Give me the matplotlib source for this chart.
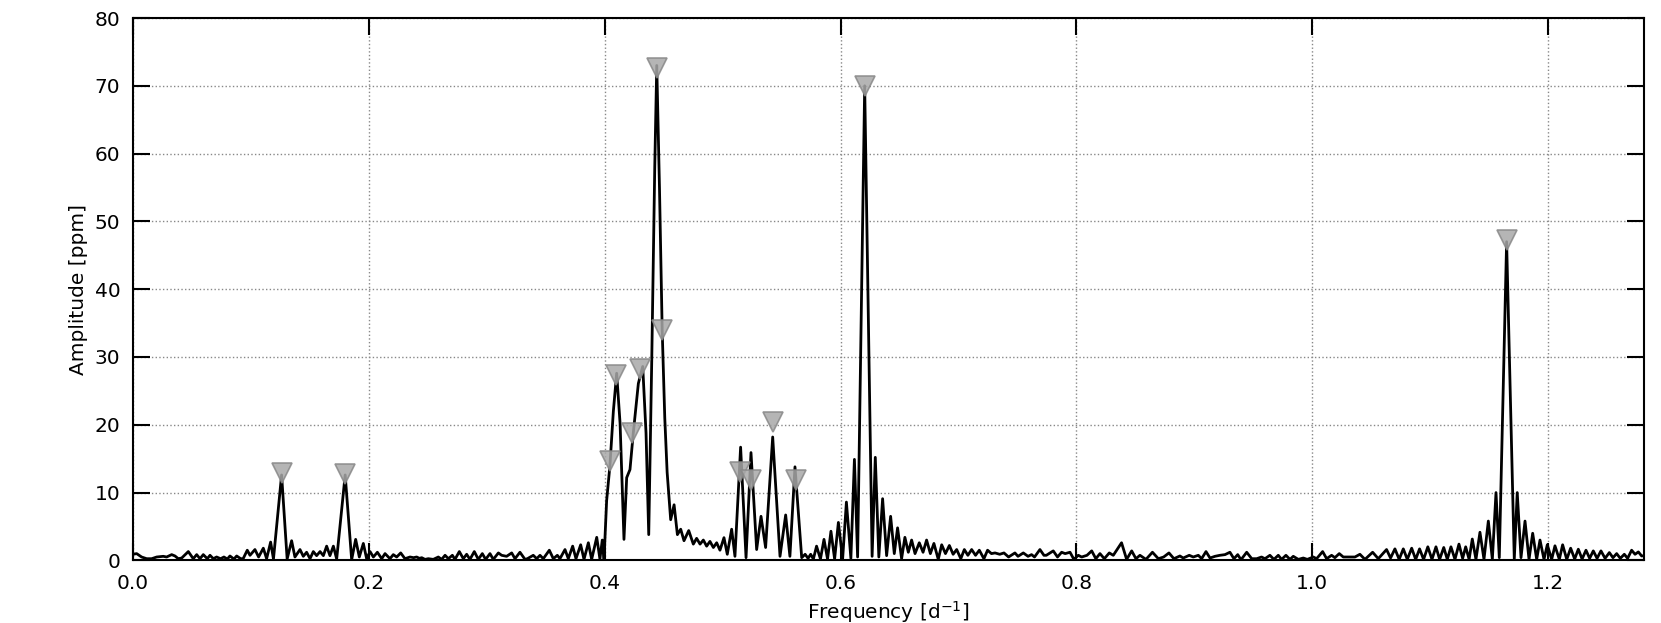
import matplotlib
matplotlib.use("Agg")
import matplotlib.pyplot as plt

# ---- data (vertices of the amplitude spectrum) ----
freq = [
    0.000, 0.0032, 0.0074, 0.0117, 0.0159, 0.0202, 0.0258, 0.0286, 0.0329, 0.0357,
    0.0385, 0.0414, 0.0470, 0.0512, 0.0541, 0.0569, 0.0597, 0.0631, 0.0654, 0.0682,
    0.0710, 0.0744, 0.0772, 0.0801, 0.0823, 0.0857, 0.0880, 0.0914, 0.0935, 0.0970,
    0.0993, 0.1035, 0.1066, 0.1106, 0.1134, 0.1168, 0.1192, 0.1261, 0.1308, 0.1346,
    0.1374, 0.1417, 0.1445, 0.1473, 0.1502, 0.1530, 0.1558, 0.1587, 0.1615, 0.1643,
    0.1671, 0.1700, 0.1728, 0.1800, 0.1855, 0.1889, 0.1920, 0.1954, 0.1982, 0.2011,
    0.2039, 0.2073, 0.2110, 0.2138, 0.2180, 0.2208, 0.2237, 0.2271, 0.2307, 0.2350,
    0.2380, 0.2406, 0.2430, 0.2449, 0.2477, 0.2505, 0.2547, 0.2590, 0.2618, 0.2647,
    0.2675, 0.2709, 0.2731, 0.2768, 0.2802, 0.2830, 0.2858, 0.2895, 0.2929, 0.2963,
    0.2991, 0.3028, 0.3056, 0.3099, 0.3127, 0.3169, 0.3212, 0.3240, 0.3282, 0.3325,
    0.3345, 0.3395, 0.3424, 0.3452, 0.3480, 0.3531, 0.3565, 0.3599, 0.3621, 0.3664,
    0.3692, 0.3729, 0.3757, 0.3797, 0.3825, 0.3862, 0.3890, 0.3933, 0.3960, 0.3980,
    0.3995, 0.4017, 0.4045, 0.4074, 0.4102, 0.4131, 0.4164, 0.4187, 0.4215, 0.4243,
    0.4286, 0.4323, 0.4351, 0.4374, 0.4400, 0.4425, 0.4442, 0.4465, 0.4488, 0.4510,
    0.4530, 0.4560, 0.4589, 0.4617, 0.4645, 0.4673, 0.4713, 0.4752, 0.4780, 0.4809,
    0.4837, 0.4865, 0.4893, 0.4922, 0.4950, 0.4978, 0.5012, 0.5040, 0.5077, 0.5105,
    0.5153, 0.5199, 0.5241, 0.5289, 0.5326, 0.5365, 0.5425, 0.5487, 0.5535, 0.5571,
    0.5614, 0.5671, 0.5700, 0.5725, 0.5747, 0.5770, 0.5797, 0.5830, 0.5860, 0.5890,
    0.5919, 0.5950, 0.5982, 0.6018, 0.6050, 0.6088, 0.6118, 0.6145, 0.6205, 0.6268,
    0.6295, 0.6325, 0.6357, 0.6391, 0.6425, 0.6456, 0.6484, 0.6518, 0.6546, 0.6575,
    0.6603, 0.6632, 0.6668, 0.6700, 0.6730, 0.6762, 0.6792, 0.6829, 0.6858, 0.6890,
    0.6923, 0.6955, 0.6985, 0.7020, 0.7050, 0.7080, 0.7112, 0.7145, 0.7177, 0.7216,
    0.7247, 0.7280, 0.7310, 0.7350, 0.7386, 0.7425, 0.7479, 0.7505, 0.7550, 0.7590,
    0.7620, 0.7645, 0.7691, 0.7725, 0.7745, 0.7804, 0.7840, 0.7875, 0.7905, 0.7946,
    0.7979, 0.8016, 0.8045, 0.8090, 0.8130, 0.8165, 0.8200, 0.8237, 0.8279, 0.8313,
    0.8383, 0.8426, 0.8469, 0.8505, 0.8539, 0.8590, 0.8645, 0.8695, 0.8740, 0.8785,
    0.8827, 0.8878, 0.8906, 0.8957, 0.8991, 0.9034, 0.9062, 0.9099, 0.9133, 0.9175,
    0.9217, 0.9260, 0.9302, 0.9336, 0.9368, 0.9396, 0.9444, 0.9487, 0.9529, 0.9570,
    0.9599, 0.9641, 0.9675, 0.9712, 0.9740, 0.9777, 0.9811, 0.9839, 0.9882, 0.9924,
    0.9958, 1.0009, 1.0037, 1.0088, 1.0122, 1.0164, 1.0192, 1.0229, 1.0263, 1.0320,
    1.0362, 1.0404, 1.0447, 1.0512, 1.0560, 1.0630, 1.0664, 1.0701, 1.0737, 1.0772,
    1.0806, 1.0843, 1.0877, 1.0910, 1.0944, 1.0980, 1.1015, 1.1049, 1.1080, 1.1115,
    1.1145, 1.1176, 1.1210, 1.1244, 1.1275, 1.1301, 1.1330, 1.1357, 1.1388, 1.1422,
    1.1456, 1.1493, 1.1527, 1.1558, 1.1586, 1.1648, 1.1713, 1.1738, 1.1770, 1.1804,
    1.1838, 1.1869, 1.1903, 1.1931, 1.1965, 1.1993, 1.2030, 1.2058, 1.2095, 1.2123,
    1.2158, 1.2191, 1.2225, 1.2256, 1.2288, 1.2321, 1.2352, 1.2383, 1.2415, 1.2448,
    1.2483, 1.2519, 1.2550, 1.2581, 1.2612, 1.2646, 1.2674, 1.2708, 1.2737, 1.2765,
    1.2793, 1.2815,
]
amplitude = [
    0.9, 1.0, 0.5, 0.25, 0.25, 0.5, 0.6, 0.5, 0.85, 0.65,
    0.25, 0.35, 1.3, 0.25, 0.85, 0.25, 0.85, 0.25, 0.75, 0.25,
    0.5, 0.25, 0.5, 0.2, 0.65, 0.2, 0.65, 0.25, 0.25, 1.5,
    0.75, 1.6, 0.5, 1.8, 0.25, 2.7, 0.2, 12.6, 0.2, 2.9,
    0.5, 1.6, 0.6, 1.2, 0.25, 1.3, 0.7, 1.3, 0.7, 2.1,
    0.7, 2.1, 0.2, 12.6, 0.1, 3.1, 0.5, 2.5, 0.25, 1.3,
    0.5, 1.2, 0.25, 1.0, 0.25, 0.85, 0.5, 1.1, 0.25, 0.5,
    0.4, 0.5, 0.3, 0.4, 0.15, 0.25, 0.15, 0.5, 0.15, 0.75,
    0.25, 0.75, 0.15, 1.3, 0.25, 0.9, 0.15, 1.3, 0.15, 1.0,
    0.15, 1.0, 0.15, 1.1, 0.75, 0.6, 1.1, 0.25, 1.2, 0.15,
    0.25, 0.75, 0.25, 0.75, 0.25, 1.5, 0.25, 0.75, 0.25, 1.6,
    0.25, 2.1, 0.25, 2.3, 0.15, 2.6, 0.15, 3.4, 0.2, 3.0,
    0.2, 8.8, 14.0, 22.0, 27.6, 20.2, 3.1, 12.2, 13.4, 18.8,
    26.1, 28.6, 18.8, 3.8, 30.0, 58.0, 73.0, 55.0, 34.0, 21.0,
    13.0, 6.0, 8.2, 3.8, 4.6, 2.9, 4.4, 2.4, 3.25, 2.4,
    3.0, 2.1, 2.8, 1.9, 2.6, 1.5, 3.35, 0.9, 4.6, 0.6,
    16.7, 0.4, 15.9, 1.6, 6.5, 1.9, 18.2, 0.6, 6.7, 0.6,
    13.8, 0.4, 0.9, 0.3, 0.9, 0.2, 2.1, 0.2, 3.1, 0.2,
    4.3, 0.2, 5.6, 0.2, 8.6, 0.3, 14.9, 0.5, 70.0, 0.6,
    15.2, 0.5, 9.1, 0.7, 6.5, 1.0, 4.8, 0.25, 3.4, 1.2,
    3.0, 1.0, 2.6, 1.2, 3.0, 1.0, 2.5, 0.15, 2.3, 1.0,
    2.2, 0.9, 1.6, 0.25, 1.6, 0.75, 1.6, 0.75, 1.5, 0.25,
    1.5, 1.0, 1.1, 0.9, 1.1, 0.5, 1.1, 0.6, 1.1, 0.6,
    0.85, 0.5, 1.6, 0.75, 0.75, 1.4, 0.5, 1.2, 1.0, 1.2,
    0.15, 0.75, 0.5, 0.75, 1.4, 0.25, 1.0, 0.25, 1.1, 0.75,
    2.6, 0.15, 1.4, 0.25, 0.75, 0.15, 1.2, 0.25, 0.5, 1.1,
    0.25, 0.65, 0.35, 0.75, 0.5, 0.75, 0.25, 1.3, 0.35, 0.6,
    0.75, 0.85, 1.2, 0.25, 0.85, 0.1, 1.2, 0.25, 0.25, 0.5,
    0.25, 0.75, 0.15, 0.75, 0.15, 0.75, 0.15, 0.6, 0.15, 0.35,
    0.15, 0.5, 0.25, 1.3, 0.25, 0.75, 0.4, 1.0, 0.5, 0.5,
    0.5, 0.9, 0.15, 1.2, 0.25, 1.6, 0.35, 1.7, 0.15, 1.7,
    0.15, 1.8, 0.15, 1.7, 0.15, 2.0, 0.15, 2.0, 0.15, 1.9,
    0.15, 2.0, 0.15, 2.4, 0.3, 2.0, 0.15, 3.15, 0.15, 4.15,
    0.15, 5.8, 0.15, 10.0, 0.4, 47.0, 0.15, 10.0, 0.4, 5.8,
    0.15, 4.0, 0.15, 3.0, 0.15, 2.3, 0.15, 2.15, 0.15, 2.3,
    0.15, 1.8, 0.2, 1.65, 0.2, 1.5, 0.3, 1.4, 0.3, 1.4,
    0.3, 1.15, 0.4, 1.0, 0.3, 0.9, 0.3, 1.5, 0.9, 1.25,
    0.65, 0.7,
]

# extracted frequencies (triangle markers)
peak_freq = [0.1261, 0.1798, 0.4045, 0.4100, 0.4229, 0.4302, 0.4440, 0.4486,
             0.5147, 0.5241, 0.5425, 0.5620, 0.6205, 1.1650]
peak_amp = [12.9, 12.7, 14.7, 27.3, 18.8, 28.2, 72.6, 34.0,
            13.0, 11.9, 20.4, 11.9, 69.9, 47.3]

x_ticks = [0.0, 0.2, 0.4, 0.6, 0.8, 1.0, 1.2]
y_ticks = [0, 10, 20, 30, 40, 50, 60, 70, 80]

plt.rcParams['font.family'] = ['DejaVu Sans']
fig = plt.figure(figsize=(16.61, 6.23), dpi=100)
ax = fig.add_axes([0.0800, 0.1005, 0.9097, 0.8706])

ax.plot(freq, amplitude, color='black', lw=2.0, zorder=3,
        solid_joinstyle='round', solid_capstyle='round')
ax.plot(peak_freq, peak_amp, linestyle='none', marker='v', markersize=14,
        markerfacecolor='#a8a8a8', markeredgecolor='#888888', markeredgewidth=1.2,
        alpha=0.85, zorder=4)

ax.set_xlim(0.0, 1.2812)
ax.set_ylim(0, 80)
ax.set_xticks(x_ticks)
ax.set_xticklabels([f"{t:.1f}" for t in x_ticks])
ax.set_yticks(y_ticks)
ax.grid(True, linestyle=':', color='#888888', linewidth=1.0)
ax.set_axisbelow(True)

ax.tick_params(axis='both', which='major', direction='in', length=12.5, width=1.5,
               top=True, right=True, labelsize=14.5)
ax.tick_params(axis='x', pad=10)
ax.tick_params(axis='y', pad=9)
for s in ax.spines.values():
    s.set_linewidth(1.5)

ax.set_xlabel(r'Frequency [d$^{-1}$]', fontsize=14.5, labelpad=4)
ax.set_ylabel('Amplitude [ppm]', fontsize=14.5, labelpad=5)

fig.savefig('out.png', dpi=100)
